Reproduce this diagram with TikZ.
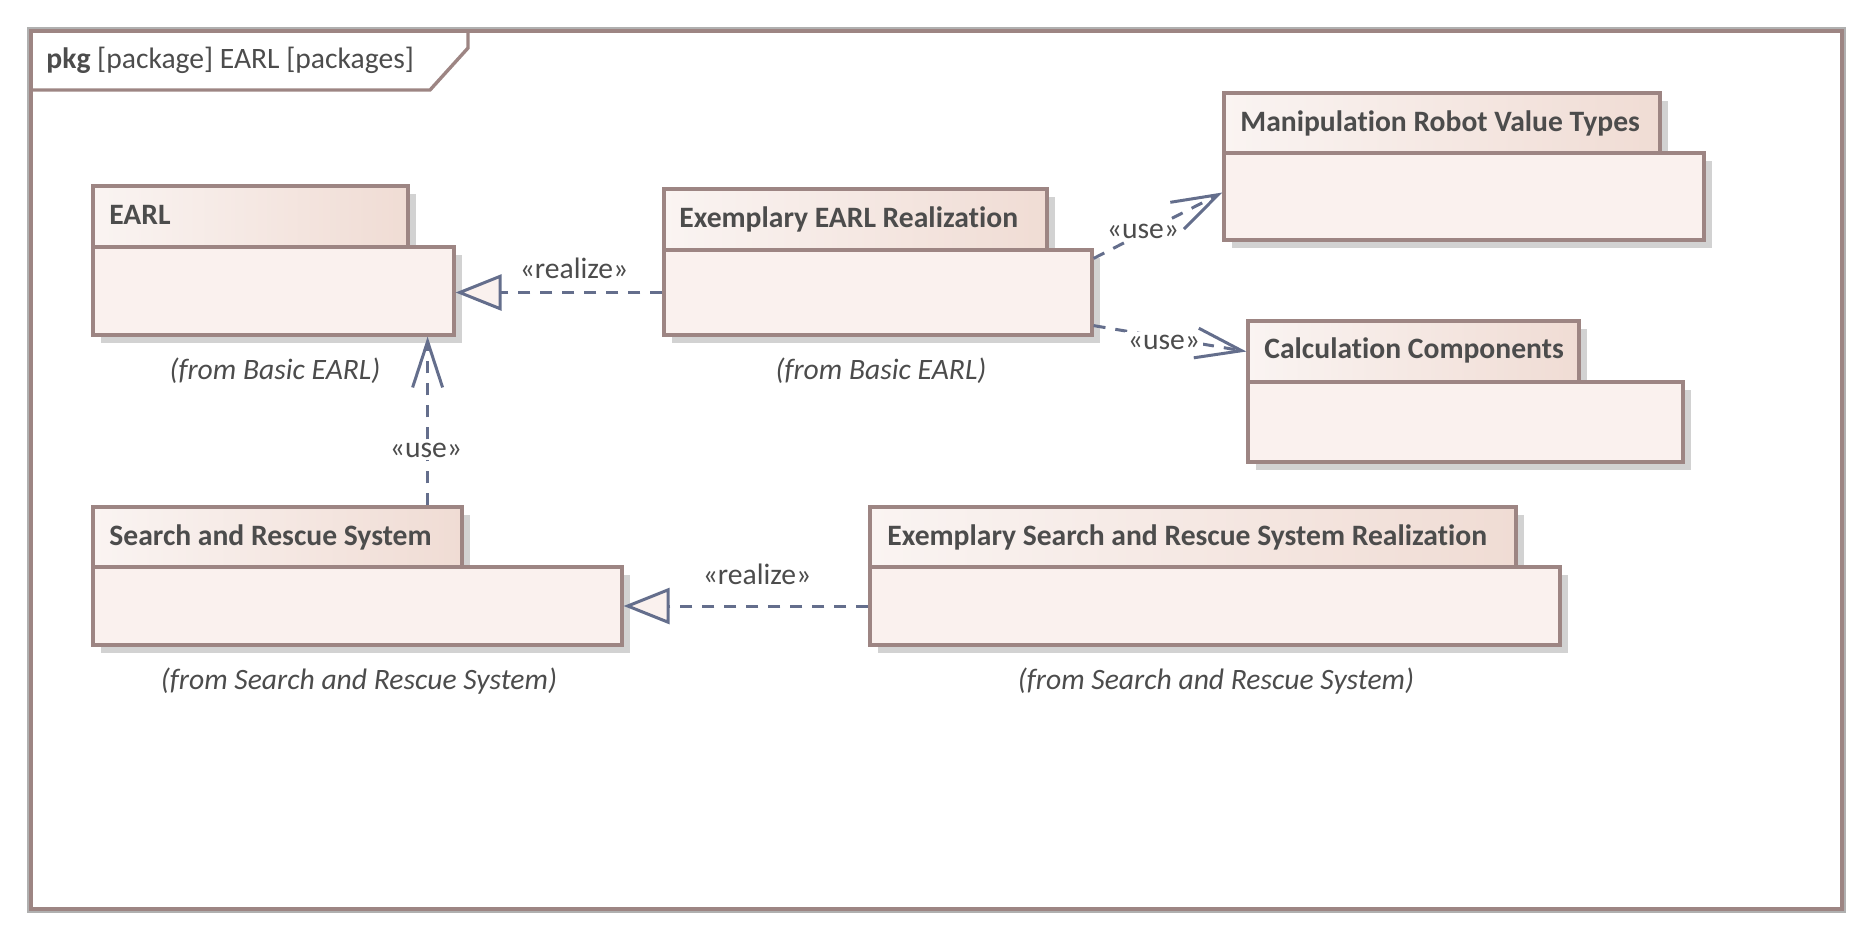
\documentclass[tikz,border=0pt]{standalone}
\usepackage{fontspec}
\setmainfont{Carlito}[Ligatures={NoCommon},Contextuals={NoAlternate}]
\usetikzlibrary{arrows.meta,fit,shadows}
\definecolor{txt}{RGB}{76,76,76}
\definecolor{bord}{RGB}{157,133,131}
\definecolor{bodyfill}{RGB}{250,241,238}
\definecolor{tabL}{RGB}{250,244,242}
\definecolor{tabR}{RGB}{240,220,212}
\definecolor{shd}{RGB}{210,210,210}
\definecolor{conn}{RGB}{100,110,140}
\definecolor{frameg}{RGB}{176,176,176}
\begin{document}
\begin{tikzpicture}[x=0.5pt,y=-0.5pt,
  every node/.style={font=\fontsize{14.8}{17}\selectfont, text=txt},
  pkgbody/.style={draw=bord, line width=1.6pt, fill=bodyfill, inner sep=0pt,
     general shadow={fill=shd, shadow xshift=4pt, shadow yshift=-4pt}},
  pkgtab/.style={draw=bord, line width=1.6pt, left color=tabL, right color=tabR, inner sep=0pt,
     general shadow={fill=shd, shadow xshift=4pt, shadow yshift=-4pt}},
  pkgtitle/.style={anchor=base west, inner sep=0pt, font=\fontsize{14.8}{17}\selectfont\bfseries},
  fromlbl/.style={anchor=base, inner sep=0pt, font=\fontsize{14.8}{17}\selectfont\itshape},
  deplbl/.style={anchor=base, fill=white, inner sep=1.5pt},
  dep/.style={draw=conn, line width=1.5pt, dash pattern=on 6pt off 5pt},
  realizearr/.style={dep, -{Triangle[length=23pt, width=18pt, fill=bodyfill]}},
  usearr/.style={dep, -{Straight Barb[length=23pt, width=15pt]}}
]
\useasboundingbox (0,0) rectangle (1872,939);

% frame
\draw[frameg, line width=0.8pt] (28,28) rectangle (1845,912);
\draw[bord, line width=1.7pt] (31,31) rectangle (1842,909);
\draw[bord, line width=1.7pt] (468,31) -- (468,48) -- (430,90) -- (31,90);
\node[anchor=base west, inner sep=0pt] (framelbl) at (46,68) {\textbf{pkg} [package] EARL [packages]};

% EARL
\node[pkgtab, fit={(93,186) (408,247)}] (earlT) {};
\node[pkgbody, fit={(93,247) (454,335)}] (earlB) {};
\node[pkgtitle] (earlN) at (109,224) {EARL};
\node[fromlbl] (earlF) at (275,379) {(from Basic EARL)};

% Exemplary EARL Realization
\node[pkgtab, fit={(664,189) (1047,250)}] (exT) {};
\node[pkgbody, fit={(664,250) (1092,335)}] (exB) {};
\node[pkgtitle] (exN) at (679,227) {Exemplary EARL Realization};
\node[fromlbl] (exF) at (881,379) {(from Basic EARL)};

% Manipulation Robot Value Types
\node[pkgtab, fit={(1224,93) (1660,153)}] (mrT) {};
\node[pkgbody, fit={(1224,153) (1704,240)}] (mrB) {};
\node[pkgtitle] (mrN) at (1240,131) {Manipulation Robot Value Types};

% Calculation Components
\node[pkgtab, fit={(1248,321) (1579,382)}] (ccT) {};
\node[pkgbody, fit={(1248,382) (1683,462)}] (ccB) {};
\node[pkgtitle] (ccN) at (1264,358) {Calculation Components};

% Search and Rescue System
\node[pkgtab, fit={(93,507) (462,567)}] (srsT) {};
\node[pkgbody, fit={(93,567) (622,645)}] (srsB) {};
\node[pkgtitle] (srsN) at (109,545) {Search and Rescue System};
\node[fromlbl] (srsF) at (359,689) {(from Search and Rescue System)};

% Exemplary Search and Rescue System Realization
\node[pkgtab, fit={(870,507) (1516,567)}] (esT) {};
\node[pkgbody, fit={(870,567) (1560,645)}] (esB) {};
\node[pkgtitle] (esN) at (887,545) {Exemplary Search and Rescue System Realization};
\node[fromlbl] (esF) at (1216,689) {(from Search and Rescue System)};

% connectors
\draw[realizearr] (exB.west) -- (exB.west -| earlB.east);
\draw[realizearr] (esB.west) -- (esB.west -| srsB.east);
\coordinate (uTop) at ([xshift=-14pt]earlB.south east);
\draw[usearr] (srsT.north -| uTop) -- (uTop);
\draw[usearr] ([yshift=-5pt]exB.north east) -- ([yshift=2pt]mrB.west);
\draw[usearr] ([yshift=5.5pt]exB.south east) -- (ccT.west);

% connector labels
\node[deplbl] (l1) at (574,278) {«realize»};
\node[deplbl] (l2) at (757,584) {«realize»};
\node[deplbl] (l3) at (1143,238) {«use»};
\node[deplbl] (l4) at (1164,349) {«use»};
\node[deplbl] (l5) at (426,457) {«use»};
\end{tikzpicture}
\end{document}
